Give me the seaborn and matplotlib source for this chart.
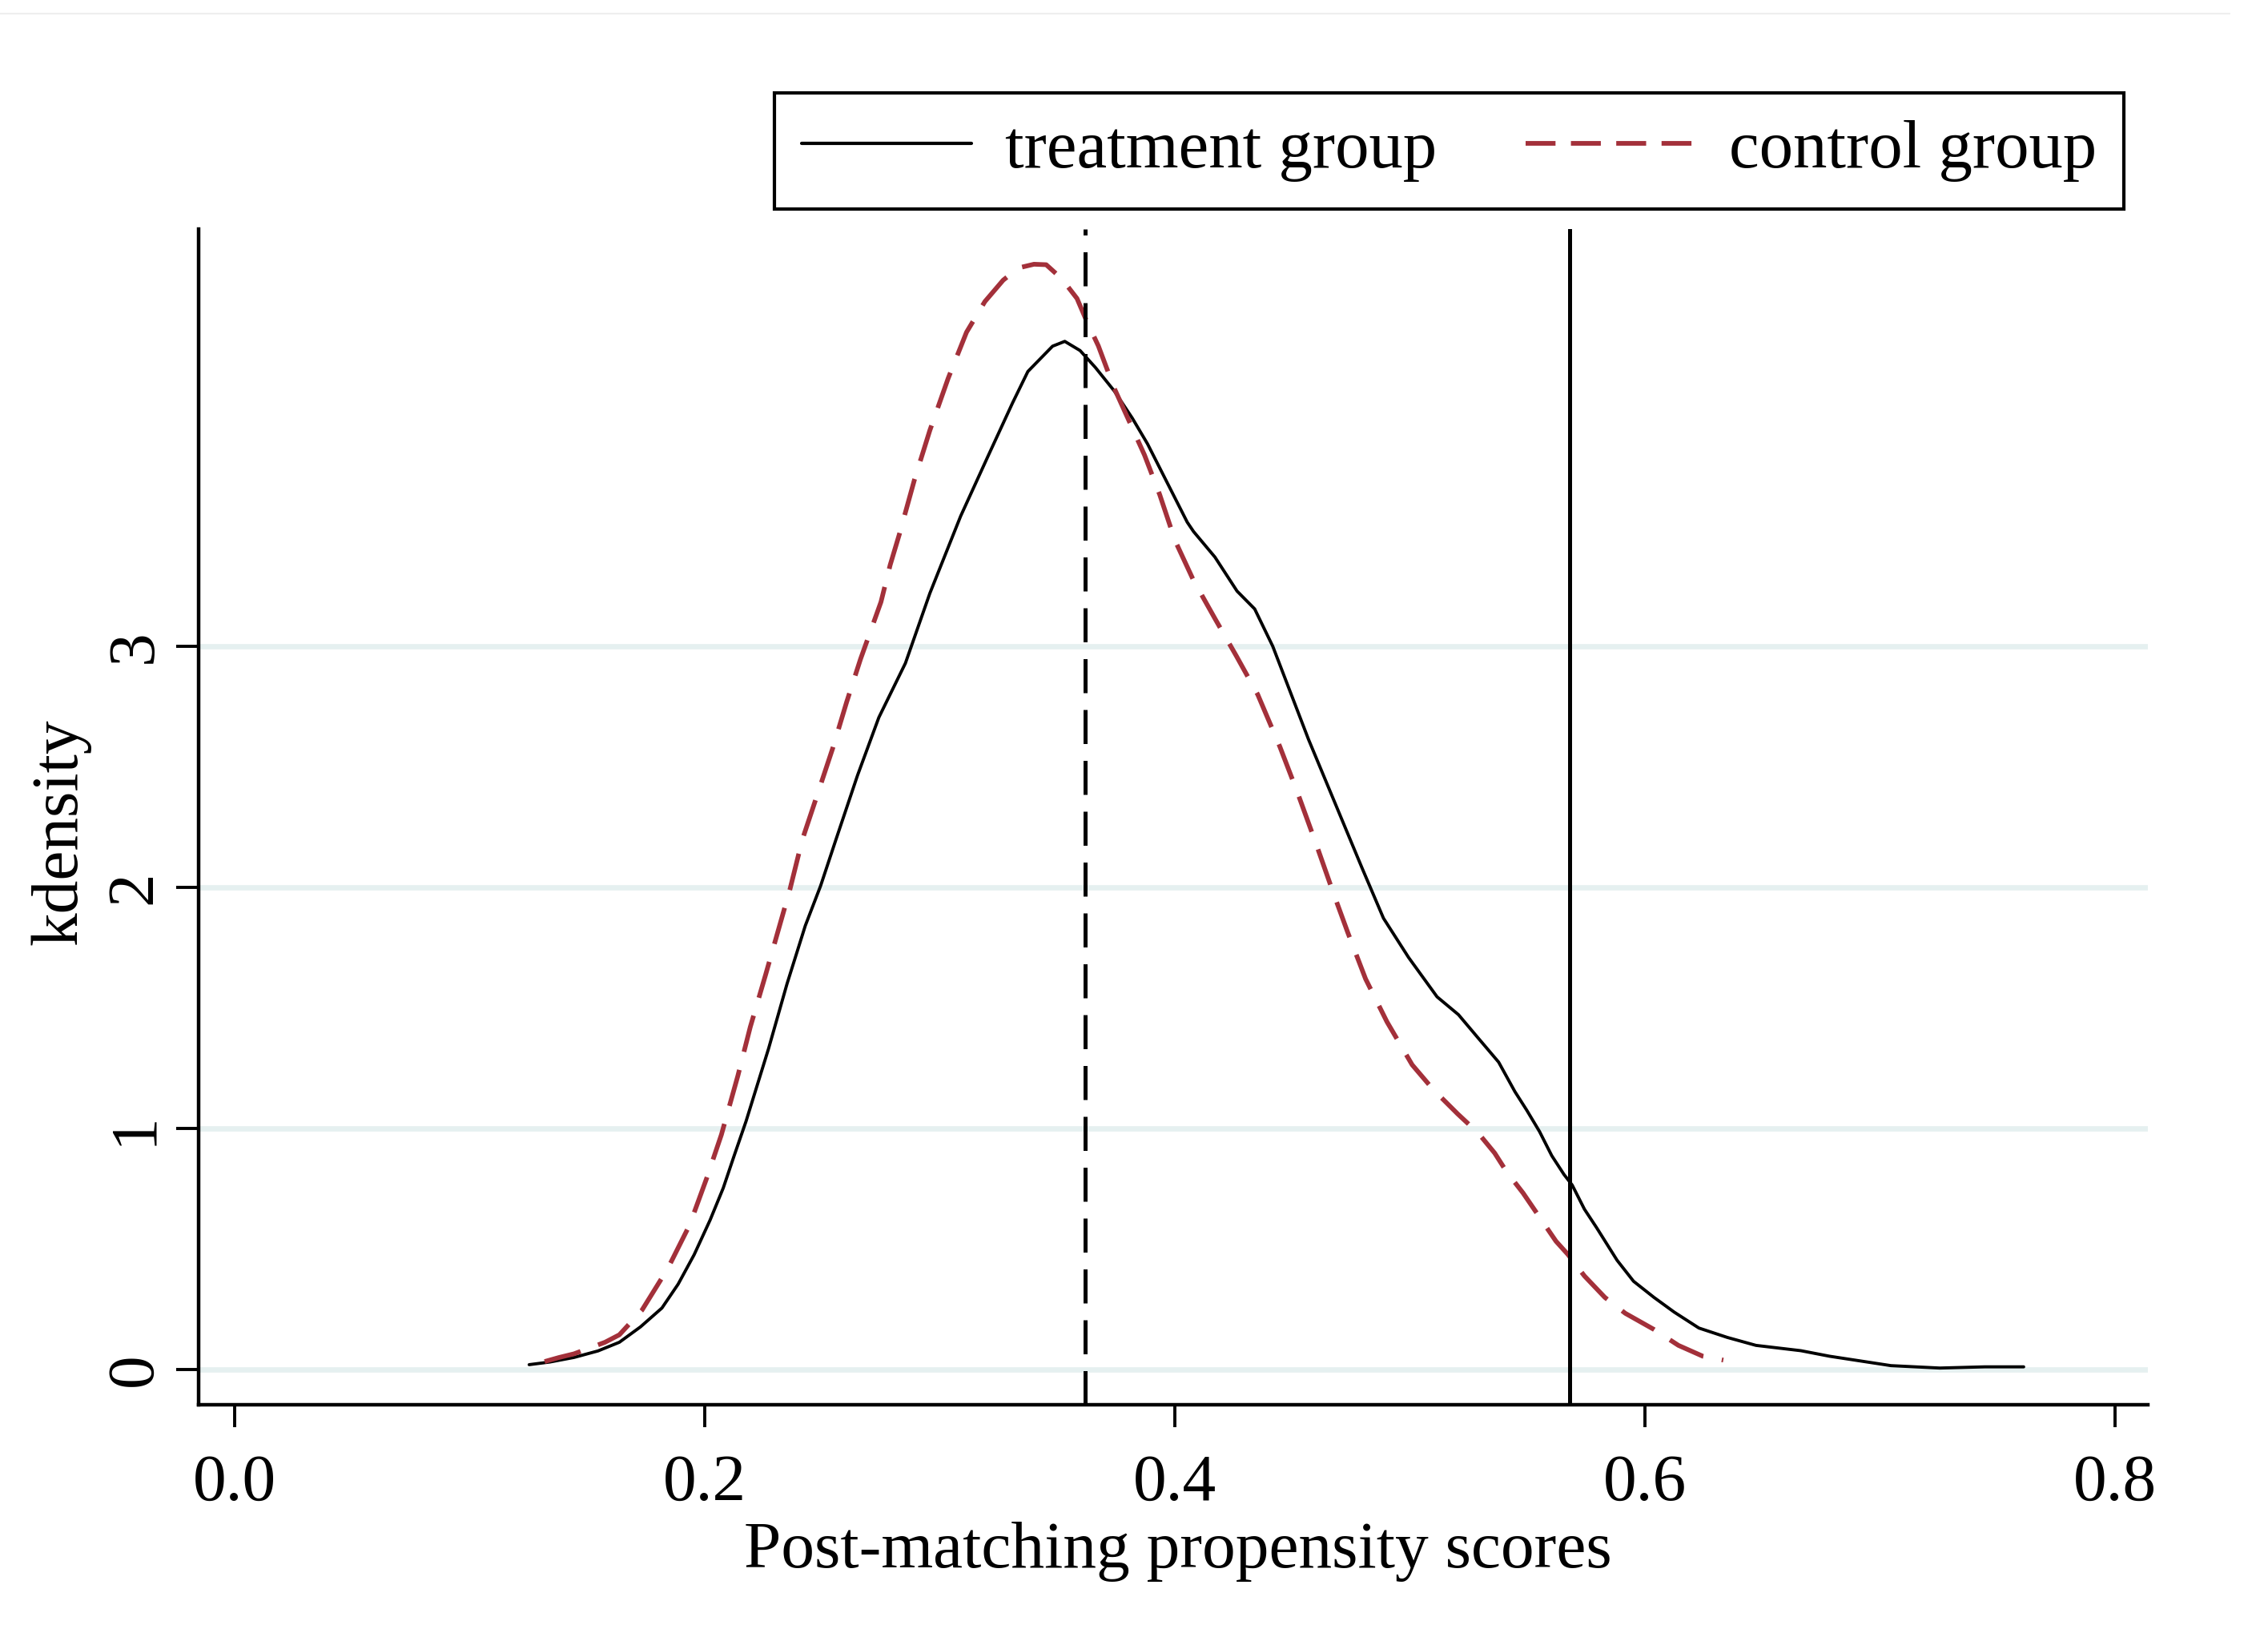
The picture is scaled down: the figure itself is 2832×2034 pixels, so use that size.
import matplotlib
matplotlib.use("Agg")
import matplotlib.pyplot as plt
import seaborn as sns
from matplotlib.lines import Line2D

# ---------------- data ----------------
treat_x = [0.1253, 0.1341, 0.1444, 0.1546, 0.1637, 0.1727, 0.1818, 0.1887, 0.1955, 0.2023,
           0.2079, 0.2125, 0.2176, 0.2272, 0.2350, 0.2428, 0.2493, 0.2558, 0.2650, 0.2741,
           0.2854, 0.2958, 0.3089, 0.3206, 0.3310, 0.3375, 0.3480, 0.3532, 0.3597, 0.3662,
           0.3742, 0.3819, 0.3884, 0.3962, 0.4053, 0.4080, 0.4171, 0.4265, 0.4340, 0.4417,
           0.4493, 0.4569, 0.4645, 0.4721, 0.4797, 0.4888, 0.4995, 0.5116, 0.5207, 0.5284,
           0.5378, 0.5447, 0.5498, 0.5552, 0.5604, 0.5656, 0.5691, 0.5743, 0.5795, 0.5882,
           0.5952, 0.6039, 0.6125, 0.6230, 0.6351, 0.6473, 0.6664, 0.6786, 0.7047, 0.7255,
           0.7447, 0.7612]
treat_y = [0.020, 0.031, 0.050, 0.077, 0.113, 0.177, 0.255, 0.354, 0.476, 0.620,
           0.753, 0.886, 1.030, 1.332, 1.599, 1.841, 2.006, 2.197, 2.464, 2.705,
           2.930, 3.220, 3.540, 3.790, 4.010, 4.140, 4.245, 4.265, 4.227, 4.157,
           4.060, 3.947, 3.840, 3.690, 3.515, 3.476, 3.370, 3.229, 3.155, 3.000,
           2.807, 2.614, 2.436, 2.258, 2.080, 1.872, 1.709, 1.546, 1.472, 1.383,
           1.275, 1.153, 1.075, 0.987, 0.887, 0.809, 0.765, 0.665, 0.588, 0.453,
           0.366, 0.299, 0.238, 0.172, 0.133, 0.100, 0.078, 0.055, 0.016, 0.006,
           0.011, 0.011]

ctrl_x = [0.1319, 0.1381, 0.1444, 0.1576, 0.1637, 0.1733, 0.1843, 0.1936, 0.2009, 0.2071,
          0.2141, 0.2194, 0.2259, 0.2311, 0.2363, 0.2415, 0.2480, 0.2545, 0.2604, 0.2663,
          0.2750, 0.2789, 0.2828, 0.2893, 0.2958, 0.3036, 0.3114, 0.3192, 0.3270, 0.3336,
          0.3401, 0.3453, 0.3519, 0.3584, 0.3623, 0.3675, 0.3741, 0.3806, 0.3871, 0.3936,
          0.4001, 0.4080, 0.4171, 0.4262, 0.4353, 0.4447, 0.4523, 0.4600, 0.4675, 0.4736,
          0.4812, 0.4903, 0.5010, 0.5101, 0.5204, 0.5291, 0.5361, 0.5412, 0.5482, 0.5552,
          0.5622, 0.5673, 0.5743, 0.5830, 0.5917, 0.6039, 0.6143, 0.6247, 0.6334]
ctrl_y = [0.033, 0.050, 0.065, 0.113, 0.144, 0.246, 0.419, 0.600, 0.795, 0.974,
          1.218, 1.421, 1.637, 1.815, 1.993, 2.197, 2.387, 2.578, 2.769, 2.947,
          3.184, 3.337, 3.464, 3.693, 3.896, 4.112, 4.303, 4.430, 4.519, 4.570,
          4.585, 4.583, 4.525, 4.443, 4.354, 4.246, 4.074, 3.934, 3.794, 3.629,
          3.439, 3.273, 3.115, 2.960, 2.800, 2.584, 2.391, 2.184, 1.976, 1.813,
          1.620, 1.442, 1.264, 1.160, 1.060, 0.981, 0.898, 0.820, 0.732, 0.632,
          0.532, 0.477, 0.388, 0.299, 0.233, 0.166, 0.100, 0.055, 0.039]

ref_dashed = 0.362   # dashed vertical reference line
ref_solid = 0.568    # solid vertical reference line

series_labels = ["treatment group", "control group"]
x_ticks = [0.0, 0.2, 0.4, 0.6, 0.8]
x_tick_labels = ["0.0", "0.2", "0.4", "0.6", "0.8"]
y_ticks = [0, 1, 2, 3]
y_tick_labels = ["0", "1", "2", "3"]
x_label = "Post-matching propensity scores"
y_label = "kdensity"

RED = "#a3303a"
GRID = "#e5f0f0"

# ---------------- style ----------------
sns.set_style("white")
plt.rcParams["font.family"] = ["Liberation Serif", "DejaVu Serif"]
plt.rcParams["text.color"] = "black"
plt.rcParams["lines.solid_joinstyle"] = "round"
plt.rcParams["lines.dash_joinstyle"] = "round"

fig = plt.figure(figsize=(14.16, 10.17), dpi=200)
ax = fig.add_axes([0.0876, 0.1377, 0.947 - 0.0876, 0.8594 - 0.1377])

sns.lineplot(x=treat_x, y=treat_y, ax=ax, color="black", lw=1.4)
sns.lineplot(x=ctrl_x, y=ctrl_y, ax=ax, color=RED, lw=2.1)
l_treat, l_ctrl = ax.lines[0], ax.lines[1]
l_ctrl.set_dashes((8, 4))

ax.axvline(ref_dashed, color="black", lw=1.8, dashes=(8.5, 4.2), zorder=3)
ax.axvline(ref_solid, color="black", lw=1.8, zorder=3)

ax.set_xlim(-0.0153, 0.814)
ax.set_ylim(-0.146, 4.731)

ax.set_xticks(x_ticks)
ax.set_xticklabels(x_tick_labels)
ax.set_yticks(y_ticks)
ax.set_yticklabels(y_tick_labels)

ax.yaxis.grid(True, color=GRID, lw=2.4)
ax.xaxis.grid(False)
ax.set_axisbelow(True)

for s in ["top", "right"]:
    ax.spines[s].set_visible(False)
for s in ["left", "bottom"]:
    ax.spines[s].set_color("black")
    ax.spines[s].set_linewidth(1.6)

ax.tick_params(axis="both", which="major", direction="out", length=10, width=1.4,
               color="black", labelsize=30, labelcolor="black", bottom=True, left=True)
ax.tick_params(axis="x", pad=12)
ax.tick_params(axis="y", pad=5, labelrotation=90)
for t in ax.get_yticklabels():
    t.set_verticalalignment("center")

ax.set_xlabel(x_label, fontsize=30, color="black")
ax.xaxis.set_label_coords(0.5025, -0.0995)
ax.set_ylabel(y_label, fontsize=30, color="black")
ax.yaxis.set_label_coords(-0.0555, 0.487)

h_treat = Line2D([], [], color="black", lw=1.5)
h_ctrl = Line2D([], [], color=RED, lw=2.1, dashes=(6.4, 3.3))
leg = ax.legend([h_treat, h_ctrl], series_labels, loc="upper right",
                bbox_to_anchor=(0.9364, 0.943), bbox_transform=fig.transFigure,
                ncol=2, fontsize=30.5, frameon=True, fancybox=False, edgecolor="black",
                framealpha=1, borderpad=0.4, handlelength=2.5, handletextpad=0.5,
                columnspacing=1.3, borderaxespad=0)
leg.get_frame().set_linewidth(1.5)
for t in leg.get_texts():
    t.set_color("black")

# faint border line at the very top of the image
fig.add_artist(Line2D([0.0, 0.983], [0.9916, 0.9916], transform=fig.transFigure,
                      color="#eeeeee", lw=0.8))

fig.savefig("out.png", dpi=200)
